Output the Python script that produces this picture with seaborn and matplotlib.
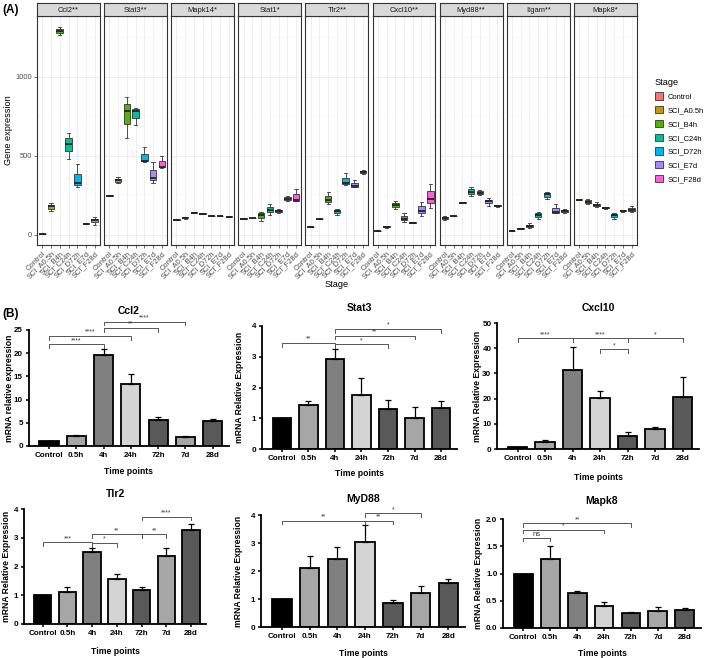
import numpy as np
import pandas as pd
import seaborn as sns
import matplotlib.pyplot as plt
from matplotlib.patches import Patch
from matplotlib.ticker import MultipleLocator

plt.rcParams['font.family'] = ['Liberation Sans', 'DejaVu Sans']

# ---------------- Panel A data (low / median / high read per stage) ----------------
stages = ["Control", "SCI_A0.5h", "SCI_B4h", "SCI_C24h", "SCI_D72h", "SCI_E7d", "SCI_F28d"]
stage_colors = ["#F8766D", "#C49A00", "#53B400", "#00C094", "#00B6EB", "#A58AFF", "#FB61D7"]
genes_a = ["Ccl2**", "Stat3**", "Mapk14*", "Stat1*", "Tlr2**", "Cxcl10**", "Myd88**", "Itgam**", "Mapk8*"]

ccl2_box = [[2, 5, 8], [150, 180, 200], [1265, 1290, 1315], [480, 575, 645], [300, 330, 445], [65, 70, 75], [60, 95, 110]]
stat3_box = [[243, 247, 250], [328, 345, 365], [612, 785, 875], [695, 785, 805], [460, 468, 555], [330, 360, 460], [422, 430, 500]]
mapk14_box = [[92, 95, 98], [102, 108, 112], [136, 140, 143], [129, 133, 137], [118, 120, 122], [118, 120, 122], [112, 115, 118]]
stat1_box = [[98, 102, 105], [103, 106, 109], [90, 125, 145], [127, 158, 196], [135, 148, 160], [213, 228, 248], [212, 220, 290]]
tlr2_box = [[47, 50, 53], [97, 100, 103], [196, 222, 270], [128, 150, 165], [315, 330, 390], [300, 310, 345], [385, 398, 412]]
cxcl10_box = [[22, 25, 28], [45, 51, 58], [165, 190, 215], [82, 100, 135], [73, 76, 80], [120, 152, 210], [172, 228, 320]]
myd88_box = [[95, 105, 118], [117, 120, 123], [198, 203, 208], [248, 272, 303], [250, 263, 285], [185, 215, 230], [178, 184, 190]]
itgam_box = [[22, 25, 28], [35, 38, 41], [42, 56, 72], [100, 127, 142], [228, 256, 270], [135, 142, 195], [138, 150, 160]]
mapk8_box = [[219, 222, 225], [195, 208, 228], [175, 190, 205], [163, 170, 178], [100, 122, 135], [145, 152, 158], [145, 158, 182]]
boxes_a = [ccl2_box, stat3_box, mapk14_box, stat1_box, tlr2_box, cxcl10_box, myd88_box, itgam_box, mapk8_box]

# ---------------- Panel B data (mean, SEM, significance) ----------------
time_points = ["Control", "0.5h", "4h", "24h", "72h", "7d", "28d"]
bar_colors = ["#000000", "#a6a6a6", "#808080", "#d4d4d4", "#595959", "#a6a6a6", "#595959"]

ccl2_mean = [1.0, 2.2, 19.7, 13.4, 5.5, 2.0, 5.4]
ccl2_sem = [0.05, 0.2, 1.1, 2.1, 0.7, 0.15, 0.5]
ccl2_sig = [(0, 2, 21.9, "****"), (0, 3, 23.7, "****"), (2, 4, 25.4, "**"), (2, 5, 26.8, "****")]

stat3_mean = [1.0, 1.42, 2.92, 1.77, 1.3, 1.0, 1.33]
stat3_sem = [0.0, 0.13, 0.33, 0.53, 0.28, 0.35, 0.22]
stat3_sig = [(0, 2, 3.44, "**"), (2, 4, 3.40, "*"), (2, 5, 3.69, "**"), (2, 6, 3.90, "*")]

cxcl10_mean = [0.8, 2.7, 31.5, 20.3, 5.3, 8.0, 20.5]
cxcl10_sem = [0.1, 1.0, 8.8, 2.9, 1.6, 0.8, 8.2]
cxcl10_sig = [(0, 2, 43.9, "****"), (2, 4, 43.9, "****"), (3, 4, 39.5, "*"), (4, 6, 43.9, "*")]

tlr2_mean = [1.0, 1.1, 2.5, 1.55, 1.2, 2.37, 3.27]
tlr2_sem = [0.0, 0.2, 0.15, 0.2, 0.07, 0.26, 0.21]
tlr2_sig = [(0, 2, 2.84, "***"), (2, 3, 2.81, "*"), (2, 4, 3.12, "**"), (4, 5, 3.12, "**"), (4, 6, 3.73, "****")]

myd88_mean = [1.0, 2.1, 2.43, 3.05, 0.87, 1.23, 1.57]
myd88_sem = [0.0, 0.45, 0.42, 0.58, 0.08, 0.22, 0.16]
myd88_sig = [(0, 3, 3.80, "**"), (3, 4, 3.80, "**"), (3, 5, 4.06, "*")]

mapk8_mean = [1.0, 1.26, 0.64, 0.4, 0.28, 0.31, 0.33]
mapk8_sem = [0.0, 0.25, 0.03, 0.08, 0.01, 0.07, 0.04]
mapk8_sig = [(0, 1, 1.65, "ns"), (0, 3, 1.80, "*"), (0, 4, 1.92, "**")]

W, H = 709, 658
fig = plt.figure(figsize=(W / 100, H / 100), dpi=100)


def px_axes(left, top, right, bottom):
    return fig.add_axes([left / W, 1 - bottom / H, (right - left) / W, (bottom - top) / H])


def fig_text(x, y, s, **kw):
    return fig.text(x / W, 1 - y / H, s, **kw)


# ---------------- Panel A ----------------
fig_text(2, 10, "(A)", fontsize=8.5, fontweight="bold", va="center")
for i, (gene, vals) in enumerate(zip(genes_a, boxes_a)):
    x0 = 37 + i * 67.1
    ax = px_axes(x0, 16, x0 + 63, 245)
    rows = [(s, v) for s, trip in zip(stages, vals) for v in trip]
    df = pd.DataFrame(rows, columns=["Stage", "value"])
    sns.boxplot(data=df, x="Stage", y="value", hue="Stage", order=stages, hue_order=stages,
                palette=stage_colors, saturation=1, width=0.75, linewidth=0.6,
                linecolor="#333333", fliersize=0, whis=(0, 100),
                medianprops=dict(linewidth=1.3, color="#222222"), legend=False, ax=ax)
    ax.set_xlim(-0.6, 6.6)
    ax.set_ylim(-65, 1385)
    ax.set_yticks([0, 500, 1000])
    ax.yaxis.set_minor_locator(MultipleLocator(250))
    ax.grid(which="major", color="#ebebeb", lw=0.6)
    ax.grid(which="minor", axis="y", color="#f2f2f2", lw=0.35)
    ax.set_axisbelow(True)
    for sp in ax.spines.values():
        sp.set_color("#333333")
        sp.set_linewidth(0.8)
    ax.set_xticks(range(7))
    ax.set_xticklabels(stages, rotation=45, ha="right", rotation_mode="anchor",
                       fontsize=5.4, color="#4d4d4d")
    ax.tick_params(axis="both", length=2, color="#333333", width=0.5, pad=1.5, labelsize=5.4,
                   labelcolor="#4d4d4d")
    ax.tick_params(axis="y", which="minor", length=0)
    if i > 0:
        ax.tick_params(axis="y", labelleft=False, left=False)
    ax.set_xlabel("")
    ax.set_ylabel("")

    sax = px_axes(x0, 3, x0 + 63, 16)
    sax.set_facecolor("#d9d9d9")
    sax.set_xticks([])
    sax.set_yticks([])
    for sp in sax.spines.values():
        sp.set_color("#333333")
        sp.set_linewidth(0.8)
    sax.text(0.5, 0.45, gene, ha="center", va="center", fontsize=5.4, color="#1a1a1a",
             transform=sax.transAxes)

fig_text(9, 130, "Gene expression", rotation=90, fontsize=6.6, ha="center", va="center")
fig_text(337, 285, "Stage", fontsize=6.6, ha="center", va="center")

handles = [Patch(facecolor=c, edgecolor="#333333", linewidth=0.6) for c in stage_colors]
fig.legend(handles, stages, title="Stage", loc="upper left",
           bbox_to_anchor=(648 / W, 1 - 71 / H), frameon=False, fontsize=5.4,
           title_fontsize=6.6, handlelength=1.1, handleheight=1.1, labelspacing=0.75,
           handletextpad=0.6, alignment="left")

# ---------------- Panel B ----------------
fig_text(2, 314, "(B)", fontsize=8.5, fontweight="bold", va="center")

panels_b = [
    ("Ccl2", "mRNA relative expression", ccl2_mean, ccl2_sem, ccl2_sig, (0, 25), 5, "%d",
     (28.5, 330, 229, 446), 311, 472, 10),
    ("Stat3", "mRNA Relative Expression", stat3_mean, stat3_sem, stat3_sig, (0, 4), 1, "%d",
     (262, 326, 457, 449), 308, 474, 240),
    ("Cxcl10", "mRNA Relative Expression", cxcl10_mean, cxcl10_sem, cxcl10_sig, (0, 50), 10, "%d",
     (497, 323, 699, 449), 308, 477, 478),
    ("Tlr2", "mRNA Relative Expression", tlr2_mean, tlr2_sem, tlr2_sig, (0, 4), 1, "%d",
     (24, 509, 206, 624), 494, 651, 7),
    ("MyD88", "mRNA Relative Expression", myd88_mean, myd88_sem, myd88_sig, (0, 4), 1, "%d",
     (261, 515, 465, 627), 499, 653, 239),
    ("Mapk8", "mRNA Relative Expression", mapk8_mean, mapk8_sem, mapk8_sig, (0, 2), 0.5, "%.1f",
     (503, 519, 701, 628), 501, 653, 479),
]

for title, ylab, means, sems, sigs, ylim, step, fmt, rect, ty, xly, yly in panels_b:
    ax = px_axes(*rect)
    sns.barplot(x=time_points, y=means, hue=time_points, order=time_points, hue_order=time_points,
                palette=bar_colors, saturation=1, width=0.7, edgecolor="black", linewidth=1.3,
                errorbar=None, legend=False, ax=ax)
    ax.errorbar(range(7), means, yerr=[np.zeros(7), sems], fmt="none", ecolor="black",
                elinewidth=0.9, capsize=2.5, capthick=0.9, zorder=1)
    ax.set_xlim(-0.75, 6.6)
    ax.set_ylim(*ylim)
    ax.set_yticks(np.arange(ylim[0], ylim[1] + step / 2, step))
    ax.yaxis.set_major_formatter(plt.FormatStrFormatter(fmt))
    ax.spines["top"].set_visible(False)
    ax.spines["right"].set_visible(False)
    ax.spines["left"].set_linewidth(1.3)
    ax.spines["bottom"].set_linewidth(1.3)
    ax.tick_params(axis="both", length=2.5, width=1.1, pad=1.5, labelsize=5.8)
    for lbl in ax.get_xticklabels() + ax.get_yticklabels():
        lbl.set_fontweight("bold")
    ax.set_xlabel("")
    ax.set_ylabel("")

    drop = (ylim[1] - ylim[0]) * 0.03
    for i, j, y, lab in sigs:
        ax.plot([i, i, j, j], [y - drop, y, y, y - drop], color="#555555", lw=0.7, clip_on=False)
        fs = 5.5 if lab == "ns" else 4.8
        ax.text((i + j) / 2, y + drop * 0.1, lab, ha="center", va="bottom", fontsize=fs,
                color="#333333", clip_on=False)

    cx = (rect[0] + rect[2]) / 2
    fig_text(cx, ty, title, fontsize=7.5, fontweight="bold", ha="center", va="center")
    fig_text(cx, xly, "Time points", fontsize=6.2, fontweight="bold", ha="center", va="center")
    fig_text(yly, (rect[1] + rect[3]) / 2, ylab, rotation=90, fontsize=6.2, fontweight="bold",
             ha="center", va="center")

fig.savefig("out.png", dpi=100)
